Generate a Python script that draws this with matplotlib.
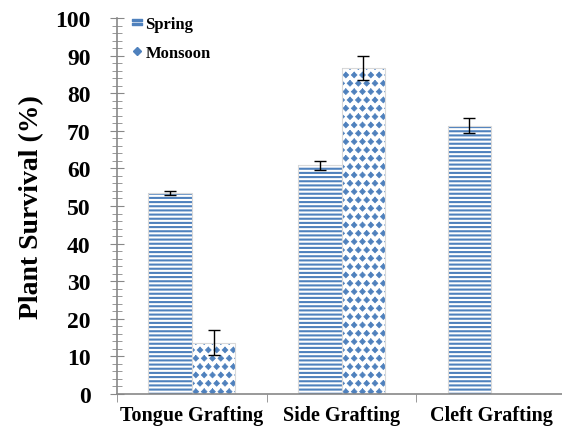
import matplotlib
matplotlib.use('Agg')
import matplotlib.pyplot as plt
import matplotlib.hatch as mhatch
from matplotlib.path import Path
import numpy as np
from matplotlib.lines import Line2D
from matplotlib.ticker import MultipleLocator, FixedLocator

categories = ['Tongue Grafting', 'Side Grafting', 'Cleft Grafting']
spring = [53.4, 60.9, 71.3]
spring_err = [0.5, 1.2, 2.0]
monsoon = [13.6, 86.7, 0]
monsoon_err = [3.3, 3.3, 0]

blue = '#4F81BD'
plt.rcParams['font.family'] = 'Liberation Serif'
plt.rcParams['font.weight'] = 'bold'
plt.rcParams['hatch.color'] = blue


# turn the '*' hatch into filled diamonds (closest to the Excel pattern)
def _diamond_init(self, hatch, density):
    self.num_rows = hatch.count('*') * density
    path = Path.unit_regular_polygon(4)
    self.shape_vertices = path.vertices
    self.shape_codes = np.full(len(self.shape_vertices), Path.LINETO, dtype=Path.code_type)
    self.shape_codes[0] = Path.MOVETO
    mhatch.Shapes.__init__(self, hatch, density)


mhatch.Stars.__init__ = _diamond_init
mhatch.Stars.size = 0.35

fig = plt.figure(figsize=(5.62, 4.31), dpi=100)
ax = fig.add_axes([117/562, 1 - 395/431, 449/562, 376/431])

x = np.arange(len(categories))
w = 0.29


def hatched_bars(xs, vals, hatch, hlw):
    with plt.rc_context({'hatch.linewidth': hlw}):
        bars = ax.bar(xs, vals, w, color='white', edgecolor=blue, linewidth=0, hatch=hatch)
    for b in bars:
        if hasattr(b, 'set_hatch_linewidth'):
            b.set_hatch_linewidth(hlw)
    # faint grey outline like the original
    ax.bar(xs, vals, w, color='none', edgecolor='#d9d9d9', linewidth=0.8)


hatched_bars(x - w/2, spring, '----', 1.5)
ax.errorbar(x - w/2, spring, yerr=spring_err, fmt='none', ecolor='black', elinewidth=1, capsize=4, capthick=1)

m_idx = [i for i in range(len(monsoon)) if monsoon[i] > 0]
m_vals = [monsoon[i] for i in m_idx]
hatched_bars(x[m_idx] + w/2, m_vals, '**', 0.5)
ax.errorbar(x[m_idx] + w/2, m_vals, yerr=[monsoon_err[i] for i in m_idx],
            fmt='none', ecolor='black', elinewidth=1, capsize=4, capthick=1)

ax.set_xlim(-0.5, 2.5)
ax.set_ylim(0, 100)
ax.yaxis.set_major_locator(MultipleLocator(10))
ax.yaxis.set_minor_locator(MultipleLocator(2))
ax.set_xticks(x)
ax.set_xticklabels(categories, fontsize=14.5, fontweight='bold')
ax.xaxis.set_minor_locator(FixedLocator([-0.5, 0.5, 1.5, 2.5]))
ax.tick_params(axis='x', which='major', length=0, pad=8)
ax.tick_params(axis='x', which='minor', length=6, color='#888888', direction='out')
ax.tick_params(axis='y', which='major', length=10, direction='inout', color='#888888', labelsize=17, pad=14)
ax.tick_params(axis='y', which='minor', length=7, direction='inout', color='#888888')
for lab in ax.get_yticklabels():
    lab.set_fontweight('bold')

for s in ['top', 'right']:
    ax.spines[s].set_visible(False)
for s in ['left', 'bottom']:
    ax.spines[s].set_color('#888888')
    ax.spines[s].set_linewidth(1.2)

ax.set_ylabel('Plant Survival (%)', fontsize=20, fontweight='bold', labelpad=8)

handles = [Line2D([], [], linestyle='none', marker='$=$', color=blue, markersize=7),
           Line2D([], [], linestyle='none', marker='D', color=blue, markersize=4)]
ax.legend(handles, ['Spring', 'Monsoon'], loc='upper left', bbox_to_anchor=(0.0, 1.045),
          frameon=False, handlelength=0.6, handletextpad=0.2, labelspacing=0.75,
          prop={'family': 'Liberation Serif', 'weight': 'bold', 'size': 12})

fig.savefig('out.png', dpi=100)
